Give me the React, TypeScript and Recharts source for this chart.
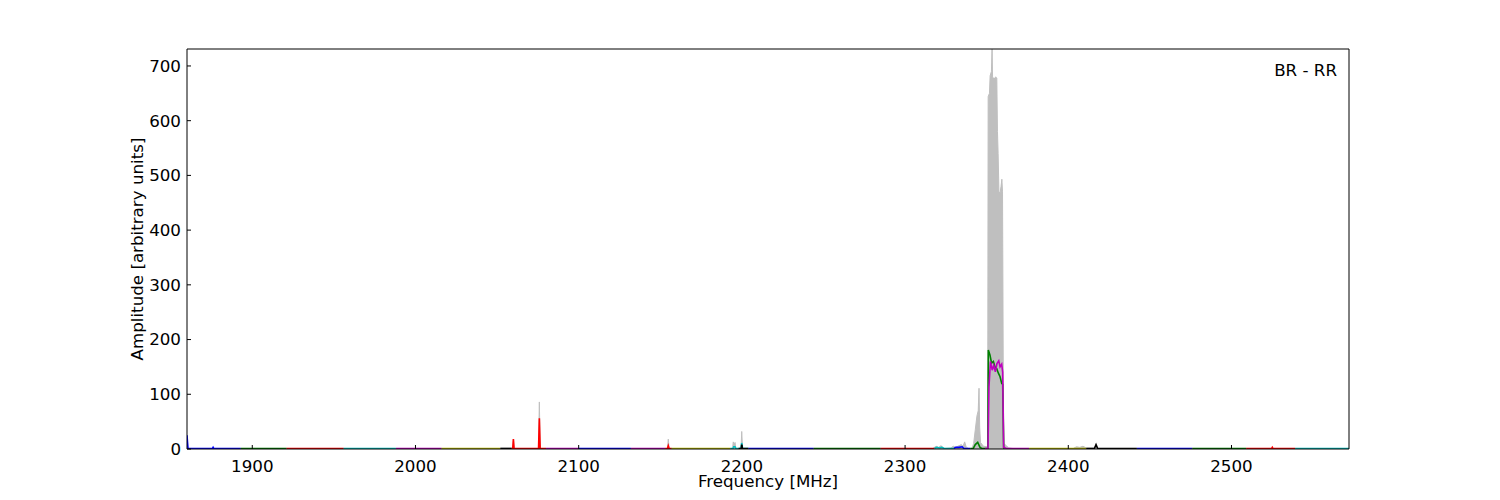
import { ComposedChart, Area, Line, XAxis, YAxis } from 'recharts';

type Pt = [number, number];

// axis setup
const X_DOMAIN: [number, number] = [1860, 2572];
const Y_DOMAIN: [number, number] = [0, 731];
const X_TICKS = [1900, 2000, 2100, 2200, 2300, 2400, 2500];
const Y_TICKS = [0, 100, 200, 300, 400, 500, 600, 700];

// grey envelope (max over all sweeps), [MHz, amplitude]
const ENVELOPE: Pt[] = [
  [1860, 25], [1860.6, 1], [2059.6, 1], [2060, 18], [2060.4, 1],
  [2075.4, 1], [2075.9, 86], [2076.4, 1], [2154.4, 1], [2154.9, 18], [2155.4, 1],
  [2194.3, 1], [2194.7, 13], [2195.3, 8], [2195.8, 12], [2196.3, 1],
  [2199.5, 1], [2199.9, 32], [2200.4, 1],
  [2317, 1], [2319, 5], [2320.5, 3], [2322, 6], [2324, 1], [2328, 2], [2329.5, 5],
  [2331, 3], [2333, 6], [2334.5, 8], [2335.5, 5], [2336.5, 13], [2337.5, 3], [2339, 1],
  [2341, 1], [2342, 10], [2343, 35], [2344, 60], [2344.8, 70], [2345.3, 111], [2345.7, 40],
  [2346.2, 12], [2348, 5], [2350.6, 4], [2350.9, 644], [2351.7, 650], [2352.1, 682],
  [2352.9, 690], [2353.3, 731], [2353.6, 680], [2354.5, 676], [2355.5, 680], [2356.2, 678],
  [2356.6, 580], [2357, 540], [2357.5, 470], [2358.2, 468], [2358.8, 480], [2359.3, 493],
  [2359.7, 470], [2360.2, 100], [2360.6, 10], [2362, 6], [2363.5, 2], [2366, 1],
  [2403, 1], [2405, 4], [2407, 3], [2409, 5], [2411, 2], [2416, 2], [2417, 8], [2418, 1],
  [2572, 1],
];

// one sweep per sub-band
const SEGMENTS: Pt[][] = [
  [[1860, 25], [1860.6, 1], [1875.6, 1], [1876, 3], [1876.4, 1], [1893, 1]],
  [[1893, 1], [1921, 1]],
  [[1921, 1], [1956, 1]],
  [[1956, 1], [1988, 1]],
  [[1988, 1], [2016, 1]],
  [[2016, 1], [2052, 1]],
  [[2052, 1], [2059, 1]],
  [[2059, 1], [2059.6, 1], [2060, 18], [2060.4, 1], [2075.4, 1], [2075.9, 56], [2076.4, 1], [2080, 1]],
  [[2080, 1], [2100, 1]],
  [[2100, 1], [2132, 1]],
  [[2132, 1], [2153, 1]],
  [[2153, 1], [2154.4, 1], [2154.9, 6], [2155.4, 1], [2157, 1]],
  [[2157, 1], [2193, 1]],
  [[2193, 1], [2194.6, 1], [2195, 4], [2195.8, 4], [2196.2, 1], [2199.5, 1], [2199.9, 11], [2200.4, 1], [2204, 1]],
  [[2198, 1], [2199.6, 1], [2199.9, 8], [2200.3, 1], [2204, 1]],
  [[2204, 1], [2244, 1]],
  [[2244, 1], [2285, 1]],
  [[2285, 1], [2318, 1]],
  [[2318, 1], [2319.5, 3], [2321, 2], [2322.5, 3], [2324, 1], [2330, 1]],
  [[2330, 1], [2331, 3], [2333, 3], [2335, 4], [2336, 1], [2340, 1]],
  [
    [2340, 1], [2341.8, 1], [2343, 8], [2344.5, 12], [2345.9, 3], [2347, 1], [2350.7, 1],
    [2351, 181], [2352, 172], [2353, 157], [2354.1, 160], [2355.1, 150], [2356.1, 147],
    [2357.1, 139], [2358.2, 132], [2359.2, 120], [2359.8, 118], [2360.4, 2], [2361, 1],
  ],
  [
    [2349, 1], [2350.8, 1], [2351.4, 114], [2352.3, 160], [2353.4, 144], [2354.3, 153],
    [2355.3, 141], [2356.3, 156], [2357.4, 161], [2358.2, 150], [2359.2, 155], [2359.8, 140],
    [2360.4, 3], [2362, 1], [2376, 1],
  ],
  [[2376, 1], [2411, 1]],
  [[2411, 1], [2416, 1], [2417, 8], [2418, 1], [2442, 1]],
  [[2442, 1], [2476, 1]],
  [[2476, 1], [2509, 1]],
  [[2509, 1], [2524.6, 1], [2525, 3], [2525.4, 1], [2539, 1]],
  [[2539, 1], [2572, 1]],
];

const PALETTE: Record<string, string> = {
  b: '#0000ff', g: '#008000', r: '#ff0000', c: '#00bfbf', m: '#bf00bf', y: '#bfbf00', k: '#000000',
};
const SEGMENT_COLORS = 'bgrcmykrmbmryckbgrcbgmykbgrc'.split('');

const FONT = 16.7;

function buildRows() {
  const rows = new Map<number, Record<string, number>>();
  const put = (key: string, pts: Pt[]) =>
    pts.forEach(([f, v]) => {
      const r = rows.get(f) ?? { f };
      r[key] = v;
      rows.set(f, r);
    });
  put('env', ENVELOPE);
  SEGMENTS.forEach((pts, i) => put(`s${i}`, pts));
  return [...rows.values()].sort((a, b) => a.f - b.f);
}

const data = buildRows();

export default function App() {
  return (
    <div style={{ position: 'relative', width: 1484, height: 484, fontFamily: 'DejaVu Sans' }}>
      <ComposedChart width={1484} height={484} data={data} margin={{ top: 40, right: 142, bottom: 3, left: 119 }}>
        <XAxis
          dataKey="f"
          type="number"
          domain={X_DOMAIN}
          ticks={X_TICKS}
          allowDataOverflow
          height={40}
          stroke="#000"
          tickSize={-4}
          tickMargin={15}
          tick={{ fill: '#000', fontSize: FONT }}
          label={{ value: 'Frequency [MHz]', position: 'insideBottom', offset: 2, fill: '#000', fontSize: FONT }}
        />
        <XAxis
          xAxisId="top"
          orientation="top"
          dataKey="f"
          type="number"
          domain={X_DOMAIN}
          ticks={X_TICKS}
          allowDataOverflow
          height={1}
          stroke="#000"
          tickSize={-4}
          tick={false}
        />
        <YAxis
          type="number"
          domain={Y_DOMAIN}
          ticks={Y_TICKS}
          allowDataOverflow
          width={60}
          stroke="#000"
          tickSize={-4}
          tickMargin={10}
          tick={{ fill: '#000', fontSize: FONT }}
          label={{
            value: 'Amplitude [arbitrary units]',
            angle: -90,
            position: 'insideLeft',
            offset: 10,
            fill: '#000',
            fontSize: FONT,
            style: { textAnchor: 'middle' },
          }}
        />
        <YAxis
          yAxisId="right"
          orientation="right"
          type="number"
          domain={Y_DOMAIN}
          ticks={Y_TICKS}
          allowDataOverflow
          width={1}
          stroke="#000"
          tickSize={-4}
          tick={false}
        />
        <Area
          xAxisId="top"
          yAxisId="right"
          dataKey="env"
          type="linear"
          connectNulls
          stroke="#bfbfbf"
          strokeWidth={1}
          fill="#bfbfbf"
          fillOpacity={1}
          isAnimationActive={false}
        />
        {SEGMENTS.map((_, i) => (
          <Line
            key={i}
            dataKey={`s${i}`}
            type="linear"
            connectNulls
            dot={false}
            stroke={PALETTE[SEGMENT_COLORS[i]]}
            strokeWidth={1.6}
            isAnimationActive={false}
          />
        ))}
      </ComposedChart>
      <div
        style={{
          position: 'absolute',
          right: 155,
          top: 54,
          fontSize: FONT,
          lineHeight: 1,
          color: '#000',
        }}
      >
        BR - RR
      </div>
    </div>
  );
}
